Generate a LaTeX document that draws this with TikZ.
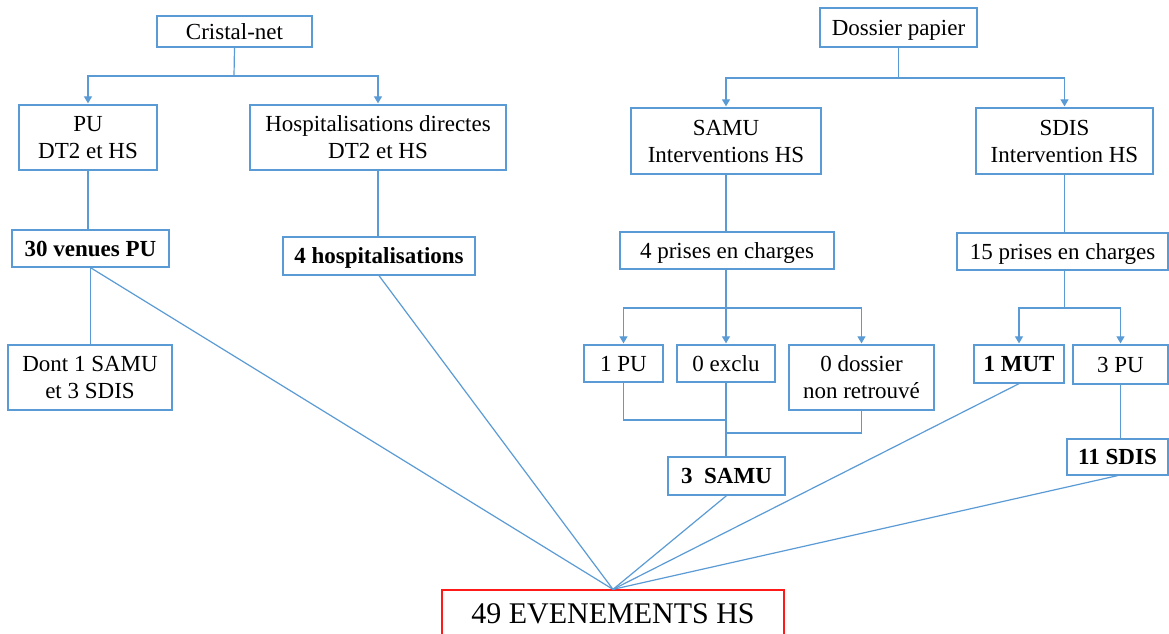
\documentclass[tikz,border=0pt]{standalone}
\usepackage{fontspec}
\setmainfont{Liberation Serif}
\usetikzlibrary{arrows.meta}
\definecolor{lineblue}{HTML}{5B9BD5}
\definecolor{boxred}{HTML}{FF1A1A}
\tikzset{
  box/.style={draw=lineblue, line width=1.3pt, inner sep=0pt, align=center, fill=white},
  onebox/.style={box, text height=19pt, text depth=4pt},
  conn/.style={draw=lineblue, line width=1.2pt},
  arr/.style={conn, -{Triangle[width=8pt,length=7pt]}, shorten >=1pt},
}
\begin{document}
\begin{tikzpicture}[x=1pt, y=-1pt, font=\fontsize{23}{27}\selectfont]
\useasboundingbox (0,0) rectangle (1169,633);
\clip (0,0) rectangle (1169,633);
\fill[white] (0,0) rectangle (1169,633);

% left tree
\node[onebox, minimum width=155pt, minimum height=31pt] (cristal) at (234.5,31.5) {Cristal-net};
\node[box, minimum width=138pt, minimum height=65pt] (pu) at (88,137.5) {PU\\ DT2 et HS};
\node[box, minimum width=256pt, minimum height=65pt] (hosp) at (378,137.5) {Hospitalisations directes\\DT2 et HS};
\node[onebox, minimum width=157pt, minimum height=37pt] (venues) at (90.5,248.5) {\textbf{30 venues PU}};
\node[onebox, minimum width=192pt, minimum height=38pt] (hosp4) at (379,256) {\textbf{4 hospitalisations}};
\node[box, minimum width=164pt, minimum height=65pt] (dont) at (90,377.5) {Dont 1 SAMU\\et 3 SDIS};

% right tree
\node[onebox, minimum width=157pt, minimum height=39pt] (dossier) at (898.5,27.5) {Dossier papier};
\node[box, minimum width=190pt, minimum height=66pt] (samu) at (726,141) {SAMU\\Interventions HS};
\node[box, minimum width=177pt, minimum height=66pt] (sdis) at (1064.5,141) {SDIS\\Intervention HS};
\node[onebox, minimum width=214pt, minimum height=37pt] (prises4) at (727,250.5) {4 prises en charges};
\node[onebox, minimum width=211pt, minimum height=37pt] (prises15) at (1062.5,251.5) {15 prises en charges};
\node[onebox, minimum width=79pt, minimum height=37pt] (pu1) at (623.5,363.5) {1 PU};
\node[onebox, minimum width=98pt, minimum height=37pt] (exclu) at (726,363.5) {0 exclu};
\node[box, minimum width=145pt, minimum height=65pt] (dossier0) at (861.5,377.5) {0 dossier\\non retrouvé};
\node[onebox, minimum width=90pt, minimum height=38pt] (mut) at (1019,364) {\textbf{1 MUT}};
\node[onebox, minimum width=95pt, minimum height=39pt] (pu3) at (1120.5,364.5) {3 PU};
\node[onebox, minimum width=117pt, minimum height=38pt] (samu3) at (726.5,476) {\textbf{3\hspace{0.5em}SAMU}};
\node[onebox, minimum width=101pt, minimum height=36pt] (sdis11) at (1117.5,457) {\textbf{11 SDIS}};

% result
\node[box, draw=boxred, minimum width=342pt, minimum height=46pt, font=\fontsize{30}{34}\selectfont, text height=21pt, text depth=0pt] (events) at (613,613) {49 EVENEMENTS HS};

% forks
\coordinate (f1) at (234,76);
\draw[conn] (cristal.south) -- (f1);
\draw[arr] (f1) -| (pu.north);
\draw[arr] (f1) -| (hosp.north);

\coordinate (f2) at (898.5,78);
\draw[conn] (dossier.south) -- (f2);
\draw[arr] (f2) -| (samu.north);
\draw[arr] (f2) -| (sdis.north);

\draw[conn] (pu.south) -- (pu.south |- venues.north);
\draw[conn] (hosp.south) -- (hosp.south |- hosp4.north);
\draw[conn] (venues.south) -- (venues.south |- dont.north);
\draw[conn] (samu.south) -- (samu.south |- prises4.north);
\draw[conn] (sdis.south) -- (sdis.south |- prises15.north);

\coordinate (f3) at (726,308);
\draw[conn] (prises4.south -| f3) -- (f3);
\draw[arr] (f3) -| (pu1.north);
\draw[arr] (f3) -- (exclu.north);
\draw[arr] (f3) -| (dossier0.north);

\coordinate (f4) at (1064.5,308);
\draw[conn] (prises15.south -| f4) -- (f4);
\draw[arr] (f4) -| (mut.north);
\draw[arr] (f4) -| (pu3.north);

% merges
\coordinate (j1) at (726,420);
\coordinate (j2) at (726,433);
\draw[conn] (pu1.south) |- (j1);
\draw[conn] (dossier0.south) |- (j2);
\draw[conn] (exclu.south) -- (exclu.south |- samu3.north);
\draw[conn] (pu3.south) -- (pu3.south |- sdis11.north);

% converging lines
\draw[conn] (venues.south) -- (events.north);
\draw[conn] (hosp4.south) -- (events.north);
\draw[conn] (samu3.south) -- (events.north);
\draw[conn] (mut.south) -- (events.north);
\draw[conn] (sdis11.south) -- (events.north);
\end{tikzpicture}
\end{document}
